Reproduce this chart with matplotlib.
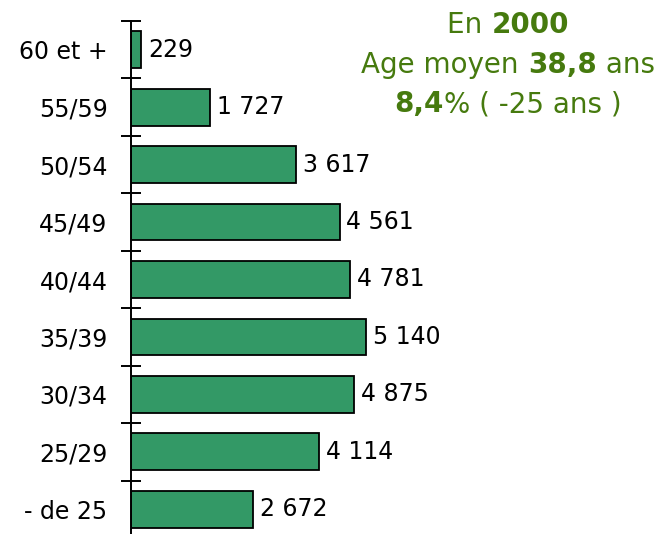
import matplotlib
matplotlib.use("Agg")
import matplotlib.pyplot as plt
import numpy as np

# Age groups, bottom to top
groups = ["- de 25", "25/29", "30/34", "35/39", "40/44",
          "45/49", "50/54", "55/59", "60 et +"]
counts = [2672, 4114, 4875, 5140, 4781, 4561, 3617, 1727, 229]

title_lines = [
    [("En ", False), ("2000", True)],
    [("Age moyen ", False), ("38,8", True), (" ans", False)],
    [("8,4", True), ("% ( -25 ans )", False)],
]

BAR_COLOR = "#339966"
TEXT_GREEN = "#467a0e"
FONT = "DejaVu Sans"

plt.rcParams["font.family"] = FONT

fig = plt.figure(figsize=(6.61, 5.34), dpi=100)
ax = fig.add_axes([131 / 661, -4 / 534, 530 / 661, 517 / 534])

y = np.arange(len(groups))
ax.barh(y, counts, height=0.64, color=BAR_COLOR, edgecolor="black",
        linewidth=1.3)

for yi, c in zip(y, counts):
    label = f"{c:,}".replace(",", " ")
    ax.annotate(label, (c, yi), xytext=(5, 0), textcoords="offset points",
                va="center", ha="left", fontsize=17)

ax.set_xlim(0, 5140 * 530 / 235)
ax.set_ylim(-0.5, len(groups) - 0.5)

# boundary ticks crossing the axis, labels at centres
ax.set_yticks(np.arange(len(groups) + 1) - 0.5)
ax.set_yticklabels([])
ax.tick_params(axis="y", which="major", direction="inout", length=15,
               width=1.4)
ax.set_yticks(y, minor=True)
ax.set_yticklabels(groups, minor=True, fontsize=17)
ax.tick_params(axis="y", which="minor", length=0, pad=17)

ax.set_xticks([])
for side in ["top", "right", "bottom"]:
    ax.spines[side].set_visible(False)
ax.spines["left"].set_linewidth(1.4)

# mixed bold title block, centred on x = 508 px
fig.canvas.draw()
renderer = fig.canvas.get_renderer()
W, H = fig.bbox.width, fig.bbox.height
centre_x = 508
line_y = [25, 65, 104]
for pieces, ly in zip(title_lines, line_y):
    texts = []
    for s, bold in pieces:
        t = fig.text(0, 1 - ly / H, s, fontsize=20, color=TEXT_GREEN,
                     fontweight="bold" if bold else "normal",
                     va="center", ha="left")
        texts.append(t)
    widths = [t.get_window_extent(renderer).width for t in texts]
    x = centre_x - sum(widths) / 2
    for t, w in zip(texts, widths):
        t.set_x(x / W)
        x += w

fig.savefig("out.png", dpi=100)
